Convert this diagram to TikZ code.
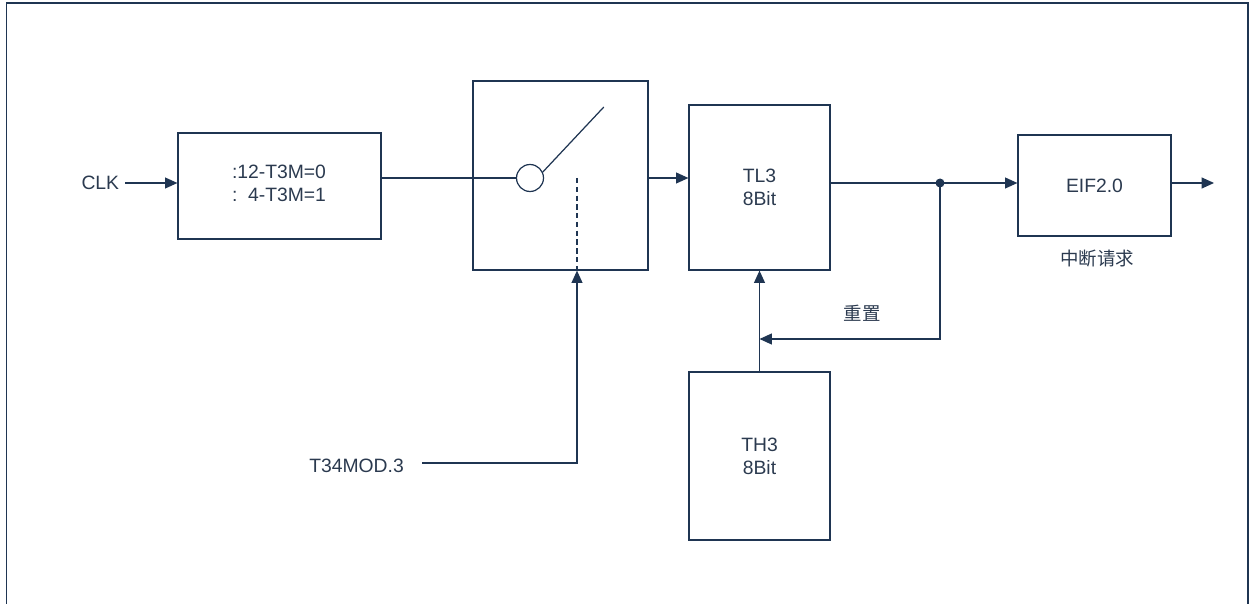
\documentclass[tikz,border=0pt]{standalone}
\usepackage{fontspec}
\setmainfont{Liberation Sans}
\newfontfamily\cjk{Noto Sans CJK SC}
\usepackage{tikz}
\usetikzlibrary{arrows.meta,calc}
\definecolor{trait}{HTML}{1F3552}
\definecolor{texte}{HTML}{2B3A4F}

\begin{document}
\begin{tikzpicture}[x=0.02cm, y=-0.02cm, line width=0.7pt, draw=trait,
  every node/.style={text=texte, font=\fontsize{11}{13}\selectfont},
  bloc/.style={rectangle, draw=trait, inner sep=0pt, align=center},
  fleche/.style={-{Triangle[length=7pt,width=6.2pt]}}]
  \useasboundingbox (0,0) rectangle (1250,604);
  % cadre
  \draw (6.5,604) -- (6.5,3) -- (1248,3) -- (1248,604);

  % blocs
  \node[bloc, minimum width=4.06cm, minimum height=2.12cm] (div) at (279.5,186) {};
  \node[align=left] at (279,183) {:12-T3M=0\\:\ \ 4-T3M=1};
  \node[bloc, minimum width=3.5cm, minimum height=3.78cm] (sw) at (560.5,175.5) {};
  \node[bloc, minimum width=2.82cm, minimum height=3.3cm] (tl) at (759.5,187.5) {TL3\\8Bit};
  \node[bloc, minimum width=2.82cm, minimum height=3.36cm] (th) at (759.5,456) {TH3\\8Bit};
  \node[bloc, minimum width=3.06cm, minimum height=2.02cm] (eif) at (1094.5,185.5) {EIF2.0};

  % textes
  \node[anchor=east, inner xsep=3pt] (clk) at (125,183) {CLK};
  \node[anchor=east, inner xsep=10pt] (mod) at (422,466) {T34MOD.3};
  \node (irq) at (1097,259) {\cjk\fontsize{10.5}{12}\selectfont 中断请求};
  \node (rst) at (862,313) {\cjk\fontsize{10.5}{12}\selectfont 重置};

  % interrupteur
  \node[circle, draw=trait, minimum size=0.54cm, inner sep=0pt] (swc) at (530,178) {};
  \draw (swc.25) -- ++(61,-65);
  \coordinate (cont) at (577,178);
  \draw[dash pattern=on 3pt off 2pt] (cont) -- (cont |- sw.south);

  % liaisons
  \draw[fleche] (clk.east) -- (clk.east -| div.west);
  \draw (div.east |- swc.west) -- (swc.west);
  \draw[fleche] (sw.east |- swc) -- (tl.west |- swc);
  \coordinate (noeud) at (940,183);
  \draw (tl.east |- noeud) -- (noeud);
  \fill[trait] (noeud) circle (4.5);
  \draw[fleche] (noeud) -- (eif.west |- noeud);
  \coordinate (sortie) at (1214,183);
  \draw[fleche] (eif.east |- sortie) -- (sortie);
  \coordinate (k) at (577,463);
  \draw[fleche] (mod.east |- k) -- (k) -- (k |- sw.south);
  \draw[fleche] (th.north) -- (tl.south);
  \draw[fleche] (noeud) -- (940,339) -- (th.north |- 0,339);
\end{tikzpicture}
\end{document}
